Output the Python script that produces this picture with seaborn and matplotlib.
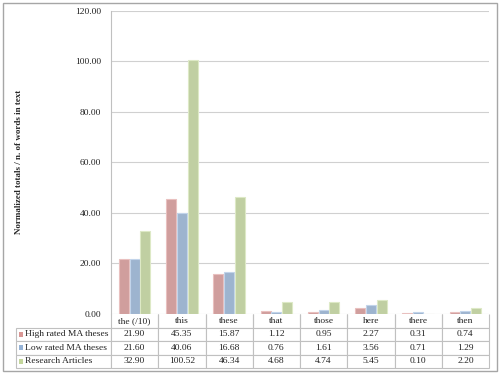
import numpy as np
import pandas as pd
import matplotlib
matplotlib.use("Agg")
import matplotlib.pyplot as plt
import seaborn as sns
from matplotlib.patches import Rectangle

categories = ["the (/10)", "this", "these", "that", "those", "here", "there", "then"]
series_names = ["High rated MA theses", "Low rated MA theses", "Research Articles"]
high_rated = [21.90, 45.35, 15.87, 1.12, 0.95, 2.27, 0.31, 0.74]
low_rated = [21.60, 40.06, 16.68, 0.76, 1.61, 3.56, 0.71, 1.29]
research = [32.90, 100.52, 46.34, 4.68, 4.74, 5.45, 0.10, 2.20]
yticks = [0, 20, 40, 60, 80, 100, 120]

colors = ["#D99694", "#95B3D7", "#C3D69B"]
edge_colors = ["#E9C0BF", "#C2D4EA", "#DDE9C6"]
grid_color = "#D0D0D0"
line_color = "#C0C0C0"

df = pd.DataFrame({
    "word": categories * 3,
    "series": [s for s in series_names for _ in categories],
    "value": high_rated + low_rated + research,
})

sns.set_theme(style="white")
plt.rcParams["font.family"] = ["Liberation Serif", "DejaVu Serif"]

fig = plt.figure(figsize=(5.0, 3.76), dpi=100)
W, H = 500, 376
ax_left, ax_right, ax_top, ax_bottom = 111, 489, 10.7, 314
ax = fig.add_axes([ax_left / W, 1 - ax_bottom / H,
                   (ax_right - ax_left) / W, (ax_bottom - ax_top) / H])

sns.barplot(data=df, x="word", y="value", hue="series", order=categories,
            hue_order=series_names, palette=colors, width=0.68, gap=0.06,
            ax=ax, legend=False, zorder=3)

for i, cont in enumerate(ax.containers):
    for bar in cont:
        bar.set_edgecolor(edge_colors[i])
        bar.set_linewidth(0.8)

ax.set_ylim(0, 120)
ax.set_xlim(-0.5, len(categories) - 0.5)
ax.set_yticks(yticks)
ax.set_yticklabels([f"{v:.2f}" for v in yticks], fontsize=6.8, color="#222222")
ax.tick_params(axis="y", length=0, pad=7)
ax.set_xticks([])
ax.set_xlabel("")
ax.set_ylabel("Normalized totals / n. of words in text", fontsize=6.5,
              fontweight="bold")
ax.yaxis.set_label_coords((23 - ax_left) / (ax_right - ax_left), 0.5)
ax.yaxis.grid(True, color=grid_color, linewidth=0.8, zorder=0)
for side in ["top", "right", "bottom"]:
    ax.spines[side].set_visible(False)
ax.spines["left"].set_color(line_color)
ax.spines["left"].set_linewidth(0.8)

# data table below the plot
tab_left, tab_bottom = 16, 368
ax_w = ax_right - ax_left
ax_h = ax_bottom - ax_top
label_w = ax_left - tab_left
col_w = ax_w / len(categories)
cell_text = [[""] + categories]
for name, vals in zip(series_names, [high_rated, low_rated, research]):
    cell_text.append([name] + [f"{v:.2f}" for v in vals])

tbl = ax.table(cellText=cell_text,
               colWidths=[label_w] + [col_w] * len(categories),
               bbox=[(tab_left - ax_left) / ax_w, -(tab_bottom - ax_bottom) / ax_h,
                     (ax_right - tab_left) / ax_w, (tab_bottom - ax_bottom) / ax_h],
               cellLoc="center")
tbl.auto_set_font_size(False)
tbl.set_fontsize(6.8)
for (r, c), cell in tbl.get_celld().items():
    cell.set_edgecolor(line_color)
    cell.set_linewidth(0.8)
    cell.get_text().set_color("#222222")
    if r == 0 and c == 0:
        cell.visible_edges = ""
    elif r == 0:
        cell.visible_edges = "LRB"
    if c == 0 and r > 0:
        cell.get_text().set_horizontalalignment("left")
        cell.PAD = 0.095

# colour keys in the row labels
row_h = (tab_bottom - ax_bottom) / 4
for i, col in enumerate(colors):
    yc = ax_bottom + row_h * (i + 1.5)
    fig.add_artist(Rectangle(((tab_left + 2.5) / W, 1 - (yc + 2.3) / H),
                             4.6 / W, 4.6 / H, transform=fig.transFigure,
                             facecolor=col, edgecolor="none"))

# outer chart border
fig.add_artist(Rectangle((3 / W, 1 - 371 / H), 494 / W, 368 / H,
                         transform=fig.transFigure, fill=False,
                         edgecolor="#A6A6A6", linewidth=1.0))

fig.savefig("out.png", dpi=100)
